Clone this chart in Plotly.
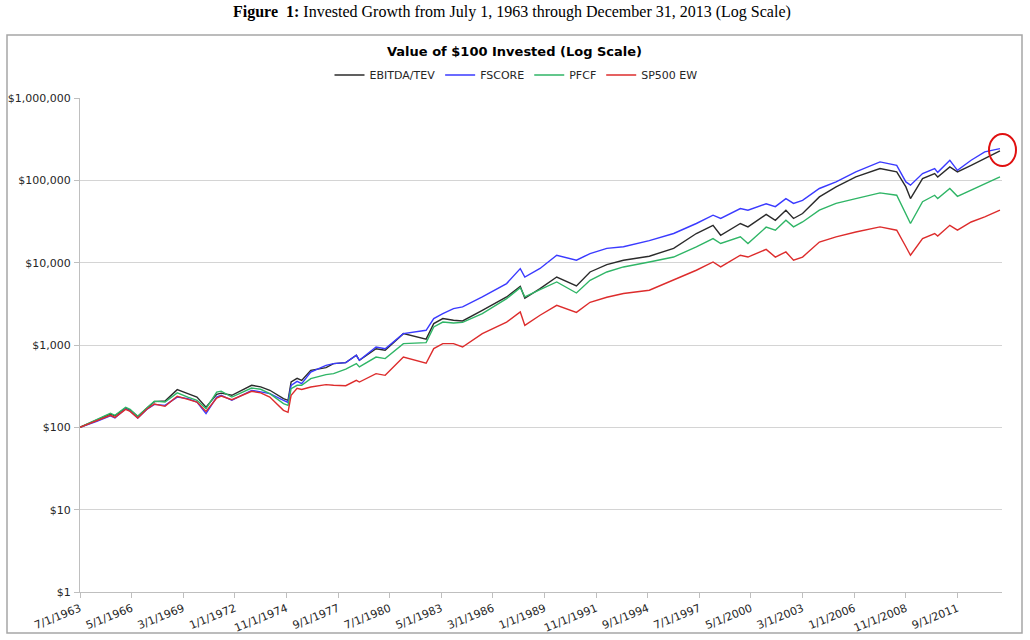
import plotly.graph_objects as go

# ---- data ----
dates = [
    "1963-07-01", "1964-06-01", "1965-03-01", "1965-06-01", "1966-01-01", "1966-04-01",
    "1966-09-01", "1967-03-01", "1967-08-01", "1968-03-01", "1968-11-01", "1969-06-01",
    "1969-12-01", "1970-06-01", "1971-01-01", "1971-04-01", "1971-11-01", "1972-12-01",
    "1973-06-01", "1973-12-01", "1974-09-01", "1974-12-01", "1975-02-01", "1975-06-01",
    "1975-09-01", "1976-03-01", "1977-01-01", "1977-06-01", "1978-02-01", "1978-09-01",
    "1978-11-01", "1979-10-01", "1980-04-01", "1981-04-01", "1982-07-01", "1982-12-01",
    "1983-06-01", "1984-01-01", "1984-07-01", "1985-08-01", "1986-12-01", "1987-09-01",
    "1987-12-01", "1988-10-01", "1989-09-01", "1990-10-01", "1991-07-01", "1992-06-01",
    "1993-05-01", "1994-10-01", "1996-02-01", "1997-05-01", "1998-04-01", "1998-09-01",
    "1999-10-01", "2000-03-01", "2001-03-01", "2001-09-01", "2002-04-01", "2002-09-01",
    "2003-03-01", "2004-02-01", "2005-01-01", "2006-02-01", "2007-06-01", "2008-05-01",
    "2008-11-01", "2009-02-01", "2009-10-01", "2010-06-01", "2010-08-01", "2011-04-01",
    "2011-09-01", "2012-06-01", "2013-03-01", "2013-12-31",
]

ebitda_tev = [
    100, 122, 145, 138, 172, 162, 135, 170, 205, 209, 287, 257,
    233, 176, 252, 260, 245, 324, 310, 282, 223, 213, 355, 394,
    372, 493, 531, 594, 610, 750, 652, 902, 862, 1374, 1180, 1820,
    2094, 1995, 1960, 2640, 3830, 5160, 3700, 4840, 6700, 5210, 7710, 9460,
    10700, 11970, 14900, 22600, 28400, 21500, 29900, 27200, 38500, 32700, 43400, 34400,
    39500, 62900, 83200, 110000, 139000, 126500, 83200, 60000, 104900, 120800, 110000, 145500,
    126500, 152000, 183500, 227500,
]

fscore = [
    100, 118, 138, 130, 168, 158, 130, 165, 190, 185, 233, 223,
    203, 147, 233, 245, 213, 281, 270, 257, 213, 201, 324, 362,
    339, 470, 566, 594, 610, 750, 652, 946, 902, 1374, 1510, 2094,
    2410, 2770, 2900, 3830, 5570, 8470, 6700, 8500, 12300, 10700, 12900, 14900,
    15600, 18500, 22600, 29900, 37700, 34400, 45400, 43400, 52000, 47900, 60000, 52500,
    57000, 79600, 95900, 126500, 167500, 152000, 95700, 87300, 120800, 139000, 125000, 175400,
    132400, 175400, 221500, 243000,
]

pfcf = [
    100, 123, 148, 140, 175, 165, 136, 172, 208, 203, 262, 233,
    213, 169, 268, 275, 233, 300, 290, 257, 194, 185, 295, 324,
    324, 391, 437, 449, 510, 594, 541, 714, 683, 1040, 1070, 1656,
    1900, 1850, 1880, 2410, 3660, 4980, 3850, 4700, 5830, 4280, 6110, 7710,
    8870, 10200, 11700, 15600, 19600, 17100, 20600, 17100, 27000, 24800, 32700, 27200,
    31200, 43400, 52500, 60000, 70300, 65900, 39500, 29900, 55100, 65900, 60000, 79600,
    64000, 75900, 91400, 110000,
]

sp500_ew = [
    100, 120, 140, 132, 165, 156, 130, 166, 192, 180, 238, 219,
    203, 156, 227, 240, 217, 274, 262, 233, 161, 152, 245, 298,
    288, 309, 330, 324, 320, 372, 355, 449, 428, 714, 600, 904,
    1040, 1040, 946, 1374, 1900, 2520, 1730, 2300, 3030, 2490, 3300, 3800,
    4220, 4630, 6110, 8090, 10200, 8870, 12300, 11700, 14500, 11700, 13500, 10700,
    11700, 17800, 20600, 23600, 27200, 24800, 15600, 12300, 19600, 22600, 21000, 28400,
    24800, 31200, 35900, 43400,
]

series_names = ["EBITDA/TEV", "FSCORE", "PFCF", "SP500 EW"]
series_colors = ["#2b2b2b", "#3a3aff", "#2fb566", "#dd2c2c"]

x_tick_dates = [
    "1963-07-01", "1966-05-01", "1969-03-01", "1972-01-01", "1974-11-01", "1977-09-01",
    "1980-07-01", "1983-05-01", "1986-03-01", "1989-01-01", "1991-11-01", "1994-09-01",
    "1997-07-01", "2000-05-01", "2003-03-01", "2006-01-01", "2008-11-01", "2011-09-01",
]
x_tick_labels = [
    "7/1/1963", "5/1/1966", "3/1/1969", "1/1/1972", "11/1/1974", "9/1/1977",
    "7/1/1980", "5/1/1983", "3/1/1986", "1/1/1989", "11/1/1991", "9/1/1994",
    "7/1/1997", "5/1/2000", "3/1/2003", "1/1/2006", "11/1/2008", "9/1/2011",
]
y_tick_values = [1, 10, 100, 1000, 10000, 100000, 1000000]
y_tick_labels = ["$1", "$10", "$100", "$1,000", "$10,000", "$100,000", "$1,000,000"]

# ---- figure ----
fig = go.Figure()
for name, vals, color in zip(series_names, [ebitda_tev, fscore, pfcf, sp500_ew], series_colors):
    fig.add_trace(go.Scatter(x=dates, y=vals, mode="lines", name=name,
                             line=dict(color=color, width=1.4)))

W, H = 1030, 640
L, R, T, B = 80, 28, 98, 48
pw, ph = W - L - R, H - T - B


def px(xp):
    return (xp - L) / pw


def py(yp):
    return (H - B - yp) / ph


fig.update_layout(
    width=W, height=H,
    margin=dict(l=L, r=R, t=T, b=B, autoexpand=False),
    paper_bgcolor="white", plot_bgcolor="white",
    font=dict(family="DejaVu Sans", size=11, color="#262626"),
    showlegend=True,
    legend=dict(orientation="h", x=px(516), xanchor="center", y=py(75), yanchor="middle",
                font=dict(size=11), itemwidth=30, bgcolor="rgba(0,0,0,0)"),
    xaxis=dict(type="date", range=["1963-07-01", "2014-02-10"], automargin=False,
               tickmode="array", tickvals=x_tick_dates, ticktext=x_tick_labels,
               tickangle=-22, ticks="outside", ticklen=5, tickcolor="#bfbfbf",
               showline=True, linecolor="#bfbfbf", linewidth=1, showgrid=False,
               zeroline=False, tickfont=dict(size=11)),
    yaxis=dict(type="log", range=[0, 6], tickmode="array", tickvals=y_tick_values,
               ticktext=y_tick_labels, ticks="outside", ticklen=5, tickcolor="#bfbfbf",
               ticklabelstandoff=1, automargin=False,
               showline=True, linecolor="#bfbfbf", linewidth=1, showgrid=True,
               gridcolor="#d4d4d4", gridwidth=1, zeroline=False, tickfont=dict(size=11)),
    annotations=[
        dict(text="<b>Figure  1:</b> Invested Growth from July 1, 1963 through December 31, 2013 (Log Scale)",
             xref="paper", yref="paper", x=px(512), y=py(12), xanchor="center", yanchor="middle",
             showarrow=False, font=dict(family="Liberation Serif", size=16, color="black")),
        dict(text="<b>Value of $100 Invested (Log Scale)</b>",
             xref="paper", yref="paper", x=px(514), y=py(52), xanchor="center", yanchor="middle",
             showarrow=False, font=dict(family="DejaVu Sans", size=13, color="black")),
    ],
    shapes=[
        dict(type="rect", xref="paper", yref="paper", x0=px(7), x1=px(1022), y0=py(633), y1=py(35),
             line=dict(color="#a6a6a6", width=1.5), fillcolor="rgba(0,0,0,0)", layer="below"),
        dict(type="circle", xref="paper", yref="paper", x0=px(989), x1=px(1016), y0=py(166), y1=py(134),
             line=dict(color="#e01010", width=2), fillcolor="rgba(0,0,0,0)"),
    ],
)

fig.write_html("out.html")
